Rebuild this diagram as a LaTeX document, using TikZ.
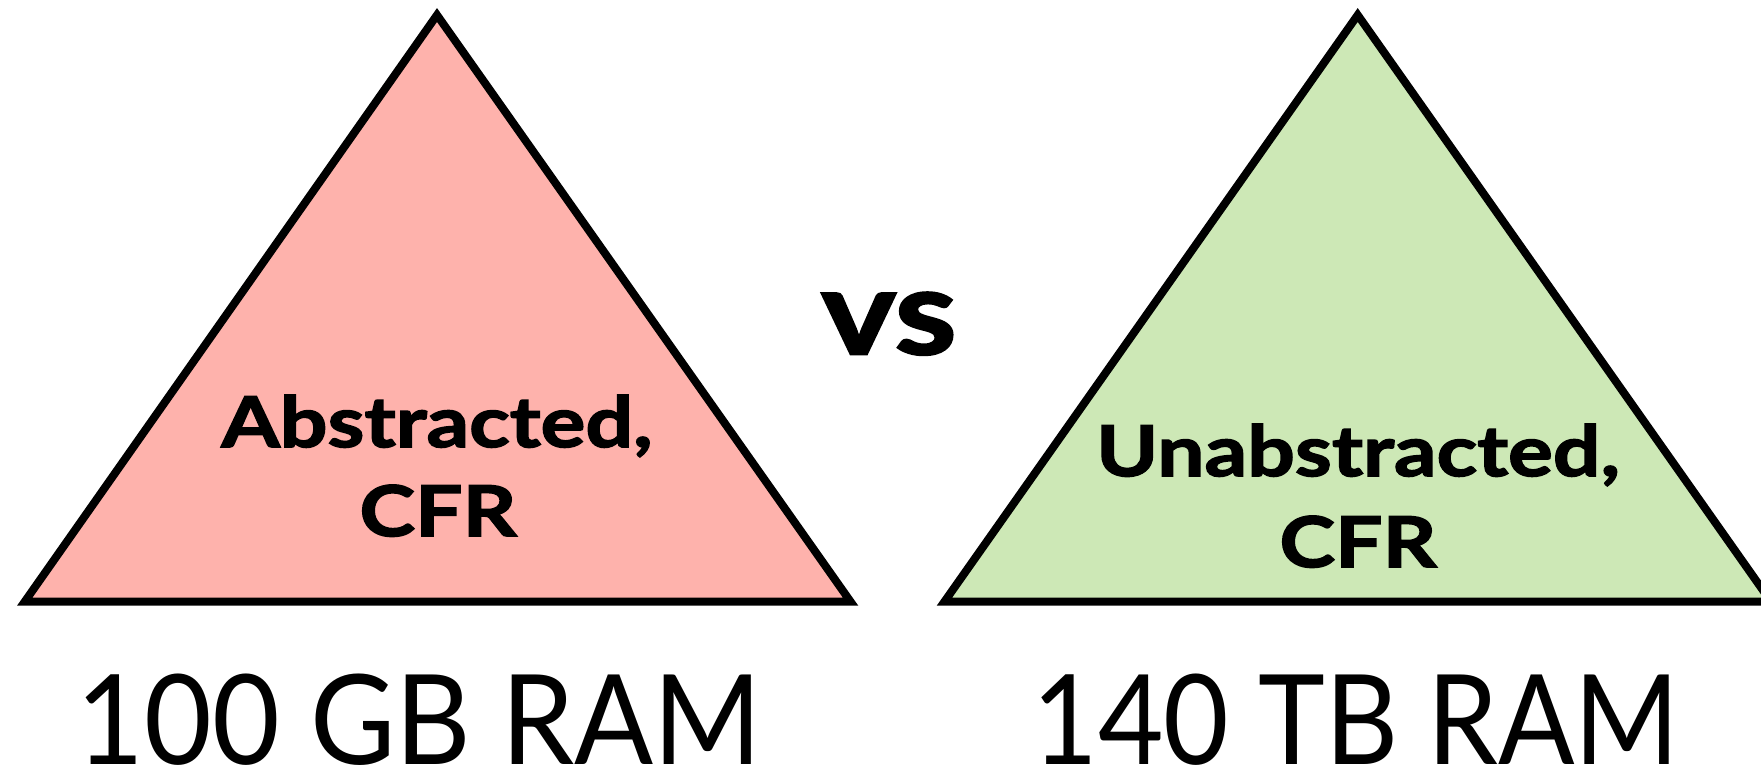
\documentclass[tikz,border=0pt]{standalone}
\usepackage{fontspec}
\setmainfont{Lato}
\newfontfamily\heavyfont{Lato}[BoldFeatures={FakeBold=2.2,FakeStretch=1.2}]
\definecolor{abspink}{RGB}{254,178,172}
\definecolor{unabsgreen}{RGB}{205,232,182}
\begin{document}
\begin{tikzpicture}[x=1pt,y=-1pt,
  tri/.style={draw=black,line width=8pt,line join=miter},
  lbl/.style={font=\heavyfont\bfseries\fontsize{70}{84}\selectfont,anchor=base,inner sep=0pt},
  vslbl/.style={font=\heavyfont\bfseries\fontsize{118}{130}\selectfont,anchor=base,inner sep=0pt},
  ram/.style={font=\fontsize{125}{140}\selectfont,anchor=base,inner sep=0pt,text depth=0pt}]
\useasboundingbox (0,0) rectangle (1761,770);
\clip (0,0) rectangle (1761,770);
% abstracted game tree
\filldraw[tri,fill=abspink] (437,15) -- (850.6,601.7) -- (24.7,601.7) -- cycle;
% unabstracted game tree
\filldraw[tri,fill=unabsgreen] (1357.7,15) -- (1771,601.7) -- (944.4,601.7) -- cycle;
\node[lbl] (abs1) at (437,447) {Abstracted,};
\node[lbl] (abs2) at (438,536) {CFR};
\node[lbl] (unabs1) at (1358,476) {Unabstracted,};
\node[lbl] (unabs2) at (1358,567) {CFR};
\node[vslbl] (vs) at (889,354) {vs};
\node[ram] (ramleft) at (419.5,764) {\scalebox{0.935}[1]{100 GB RAM}};
\node[ram] (ramright) at (1356,764) {\scalebox{0.905}[1]{140 TB RAM}};
\end{tikzpicture}
\end{document}
